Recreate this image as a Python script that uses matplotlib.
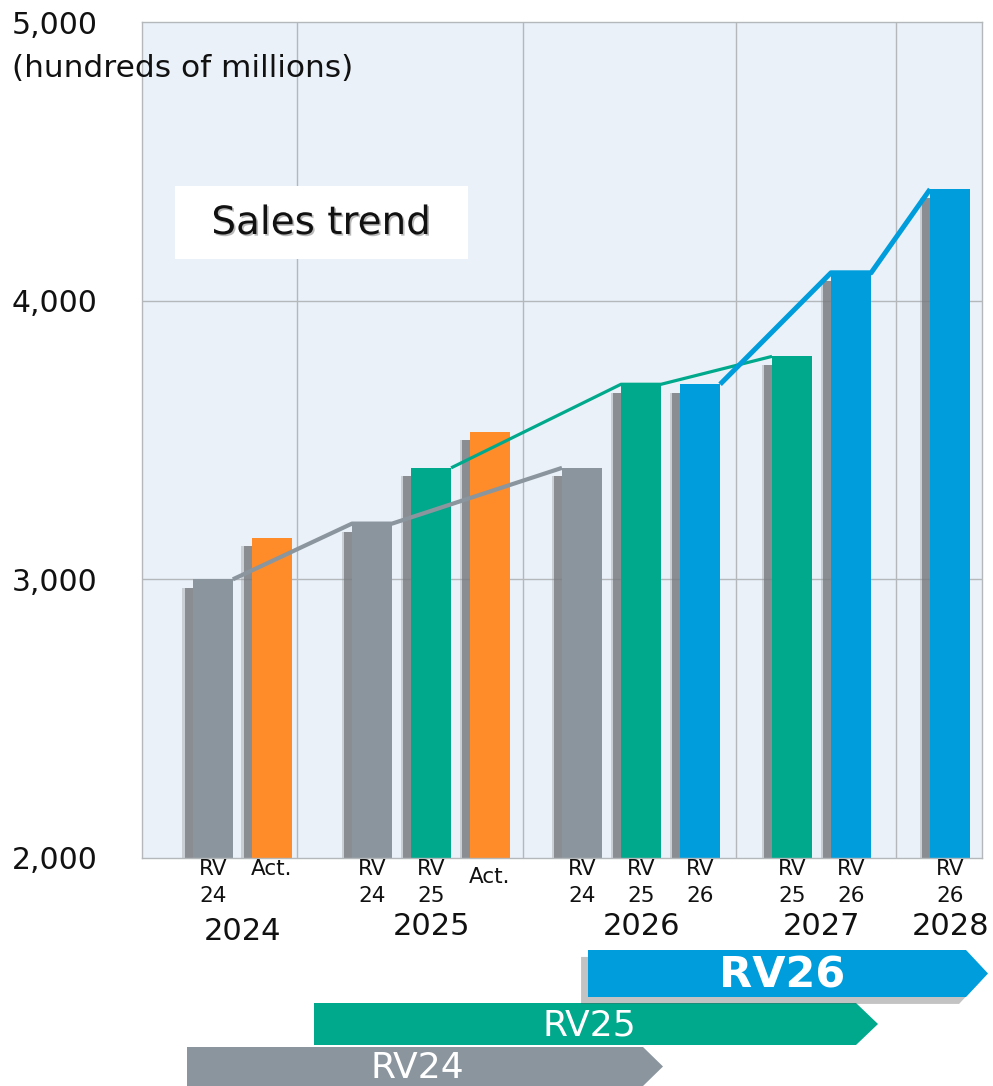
import matplotlib
matplotlib.use('Agg')
import matplotlib.pyplot as plt
from matplotlib import patheffects as pe, transforms
from matplotlib.patches import Polygon, Rectangle

# ---------------- data ----------------
years = ['2024', '2025', '2026', '2027', '2028']
bar_year = [0, 0, 1, 1, 1, 2, 2, 2, 3, 3, 4]
bar_plan = ['RV24', 'Act.', 'RV24', 'RV25', 'Act.', 'RV24', 'RV25', 'RV26', 'RV25', 'RV26', 'RV26']
bar_labels = ['RV\n24', 'Act.', 'RV\n24', 'RV\n25', 'Act.', 'RV\n24', 'RV\n25', 'RV\n26', 'RV\n25', 'RV\n26', 'RV\n26']
sales = [3000, 3150, 3200, 3400, 3530, 3400, 3700, 3700, 3800, 4100, 4400]
plans = ['RV24', 'RV25', 'RV26']
y_ticks = [2000, 3000, 4000, 5000]
y_tick_labels = ['2,000', '3,000', '4,000', '5,000']
unit_label = '(hundreds of millions)'
title = 'Sales trend'

# ---------------- style / layout ----------------
colors = {'RV24': '#8b959e', 'RV25': '#00a98b', 'RV26': '#009ddc', 'Act.': '#ff8c28'}
line_w = {'RV24': 3.0, 'RV25': 2.3, 'RV26': 3.6}
group_start = [1.2, 3.9, 7.46, 11.02, 13.7]
separators = [2.63, 6.46, 10.07, 12.78]
xmax = 14.24
bar_w = 0.68
bg = '#eaf1f8'
grid_c = '#b5b8bb'

W, H = 993, 1086
fig = plt.figure(figsize=(W / 100, H / 100), dpi=100)
fig.patch.set_facecolor('white')

ax = fig.add_axes([142 / W, 1 - 858 / H, 840 / W, 836 / H])
ax.set_facecolor(bg)
ax.set_xlim(0, xmax)
ax.set_ylim(2000, 5000)
for s in ax.spines.values():
    s.set_color(grid_c)
    s.set_linewidth(1)
ax.set_xticks([])
ax.set_yticks(y_ticks, y_tick_labels)
ax.tick_params(axis='y', length=0, pad=32, labelsize=21.5, labelcolor='#111111')
for yv in y_ticks[1:-1]:
    ax.axhline(yv, color=grid_c, lw=1, zorder=0.5)
for xv in separators:
    ax.axvline(xv, color=grid_c, lw=1, zorder=0.5)

# bar positions
xs = []
counter = {}
for g in bar_year:
    k = counter.get(g, 0)
    xs.append(group_start[g] + k)
    counter[g] = k + 1

shadow = [pe.SimplePatchShadow(offset=(-7.5, -6), shadow_rgbFace='#8f9297', alpha=0.35),
          pe.SimplePatchShadow(offset=(-5.5, -6), shadow_rgbFace='#75787c', alpha=0.75),
          pe.Normal()]
bars = ax.bar(xs, sales, width=bar_w, color=[colors[p] for p in bar_plan], zorder=2)
for b in bars:
    b.set_path_effects(shadow)

# plan trend lines
for plan in plans:
    idx = [i for i, p in enumerate(bar_plan) if p == plan]
    px, py = [], []
    for j, i in enumerate(idx):
        if j > 0:
            px.append(xs[i] - bar_w / 2); py.append(sales[i])
        if j < len(idx) - 1:
            px.append(xs[i] + bar_w / 2); py.append(sales[i])
    ax.plot(px, py, color=colors[plan], lw=line_w[plan], zorder=3,
            solid_capstyle='butt', solid_joinstyle='round')

# overlay in pixel coordinates
ov = fig.add_axes([0, 0, 1, 1])
ov.set_xlim(0, W)
ov.set_ylim(H, 0)
ov.set_axis_off()

blend = transforms.blended_transform_factory(ax.transData, ov.transData)
for i, lab in enumerate(bar_labels):
    drop = 8 if (lab == 'Act.' and bar_year[i] == 1) else 0
    ax.text(xs[i], 859 + drop, lab, transform=blend, ha='center', va='top',
            fontsize=15.5, linespacing=1.42, color='#111111')
for g, yr in enumerate(years):
    gx = [xs[i] for i in range(len(xs)) if bar_year[i] == g]
    cx = (min(gx) + max(gx)) / 2
    base = 940 if g == 0 else 935
    ax.text(cx, base, yr, transform=blend, ha='center', va='baseline',
            fontsize=22, color='#111111')

fig.text(12 / W, 1 - 68 / H, unit_label, ha='left', va='center', fontsize=22.5, color='#111111')

# title box
ov.add_patch(Rectangle((175, 186), 293, 73, facecolor='white', edgecolor='none', zorder=3))
ov.text(321, 223, title, ha='center', va='center', fontsize=28, color='#111111', zorder=4,
        path_effects=[pe.withSimplePatchShadow(offset=(1.2, -1.2), shadow_rgbFace='#777777', alpha=0.5)])


def arrow(left, right, top, bottom, tip, color, **kw):
    mid = (top + bottom) / 2
    pts = [(left, top), (right - tip, top), (right, mid), (right - tip, bottom), (left, bottom)]
    p = Polygon(pts, closed=True, facecolor=color, edgecolor='none', **kw)
    ov.add_patch(p)
    return p

arrow(187, 663, 1047, 1086, 20, colors['RV24'], zorder=2)
ov.text(417, 1068, 'RV24', ha='center', va='center', fontsize=26, color='white', zorder=5)
arrow(314, 878, 1003, 1045, 22, colors['RV25'], zorder=2)
ov.text(589, 1025, 'RV25', ha='center', va='center', fontsize=26, color='white', zorder=5)
pb = arrow(588, 988, 950, 997, 22, colors['RV26'], zorder=3)
pb.set_path_effects([pe.SimplePatchShadow(offset=(-5, -5), shadow_rgbFace='#555555', alpha=0.35), pe.Normal()])
ov.text(782, 975, 'RV26', ha='center', va='center', fontsize=31, fontweight='bold', color='white',
        zorder=5)

fig.savefig('out.png', dpi=100)
